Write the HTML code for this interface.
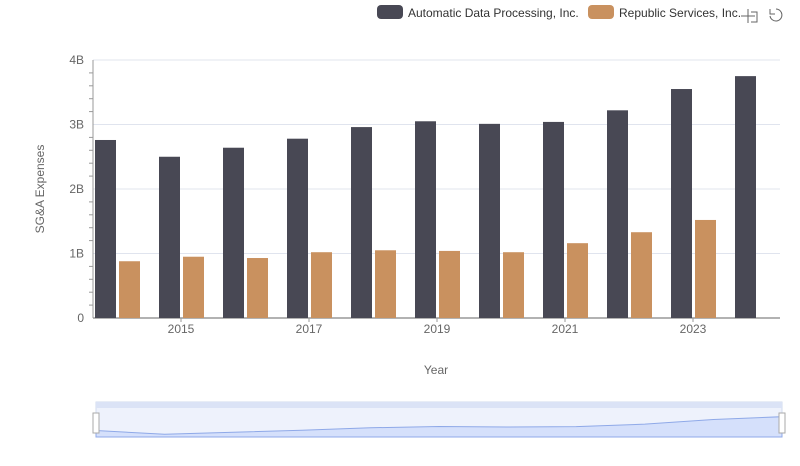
<!DOCTYPE html>
<html><head><meta charset="utf-8"><style>
body{margin:0;background:#fff;font-family:"Liberation Sans",sans-serif}
svg text{font-family:"Liberation Sans",sans-serif}
</style></head><body>
<svg width="800" height="461">
<g id="grid"></g>
<g id="bars"></g>
<g id="axes"></g>
<text x="436" y="374" font-size="12" fill="#666" text-anchor="middle">Year</text>
<text transform="translate(44,189) rotate(-90)" font-size="12" fill="#666" text-anchor="middle">SG&amp;A Expenses</text>
<g>
<rect x="377" y="5" width="26" height="14" rx="4" fill="#484854"/>
<text x="408" y="17" font-size="12" fill="#333">Automatic Data Processing, Inc.</text>
<rect x="588" y="5" width="26" height="14" rx="4" fill="#c9915f"/>
<text x="619" y="17" font-size="12" fill="#333">Republic Services, Inc.</text>
</g>
<g stroke="#666" fill="none"><path d="M748 9v14M741 16h14M751 12h6v10h-6"/></g>
<g stroke="#666" fill="none"><path d="M776 9a6 6 0 1 1 -6 7M770 9v5h5"/></g>
<g>
<rect x="96" y="402" width="686" height="35" fill="#eef2fc" stroke="#d2dbee"/>
<rect x="96" y="402" width="686" height="6" fill="#dbe3f6"/>
<path id="mini" fill="#d5e0fb" stroke="#8fa9e8"/>
<rect x="93" y="413" width="6" height="20" fill="#fff" stroke="#aaa"/>
<rect x="779" y="413" width="6" height="20" fill="#fff" stroke="#aaa"/>
</g>
</svg>
<script>
const years=[2014,2015,2016,2017,2018,2019,2020,2021,2022,2023,2024];
const adp=[2.76,2.50,2.64,2.78,2.96,3.05,3.01,3.04,3.22,3.55,3.75];
const rsg=[0.88,0.95,0.93,1.02,1.05,1.04,1.02,1.16,1.33,1.52,null];
const yTicks=[0,1,2,3,4];
const yLabels=["0","1B","2B","3B","4B"];
const NS="http://www.w3.org/2000/svg";
const y=v=>318-v*64.5, xc=i=>117+64*i;
function mk(p,t,a){const e=document.createElementNS(NS,t);for(const k in a)e.setAttribute(k,a[k]);document.getElementById(p)?document.getElementById(p).appendChild(e):p.appendChild(e);return e;}
yTicks.forEach((t,i)=>{
 const l=mk("grid","line",{x1:93,x2:780,y1:y(t),y2:y(t),stroke:t?"#e0e4ee":"#666"});
 
 
 const tx=mk("axes","text",{x:84,y:y(t)+4,"font-size":12,fill:"#666","text-anchor":"end"});
 tx.textContent=yLabels[i];
 
 
 for(let m=1;m<5&&t<4;m++){mk("axes","line",{x1:89,x2:93,y1:y(t+m/5),y2:y(t+m/5),stroke:"#999"});}
});
mk("axes","line",{x1:93,x2:93,y1:60,y2:318,stroke:"#999"});
years.forEach((yr,i)=>{
 const a=mk("bars","rect",{x:xc(i)-22,y:y(adp[i]),width:21,height:adp[i]*64.5,fill:"#484854"});
 
 
 if(rsg[i]!=null){const r=mk("bars","rect",{x:xc(i)+2,y:y(rsg[i]),width:21,height:rsg[i]*64.5,fill:"#c9915f"});
 
 }
 if(yr%2==1){const t=mk("axes","text",{x:xc(i),y:333,"font-size":12,fill:"#666","text-anchor":"middle"});t.textContent=yr;
 
 
 mk("axes","line",{x1:xc(i),x2:xc(i),y1:318,y2:322,stroke:"#999"});}
});
let d="M96 437";const mx=i=>96+686*i/(years.length-1),my=v=>437-(v-2.3)*14;
adp.forEach((v,i)=>d+=" L"+mx(i)+" "+my(v));d+=" L782 437Z";
document.getElementById("mini").setAttribute("d",d);
</script>
</body></html>
